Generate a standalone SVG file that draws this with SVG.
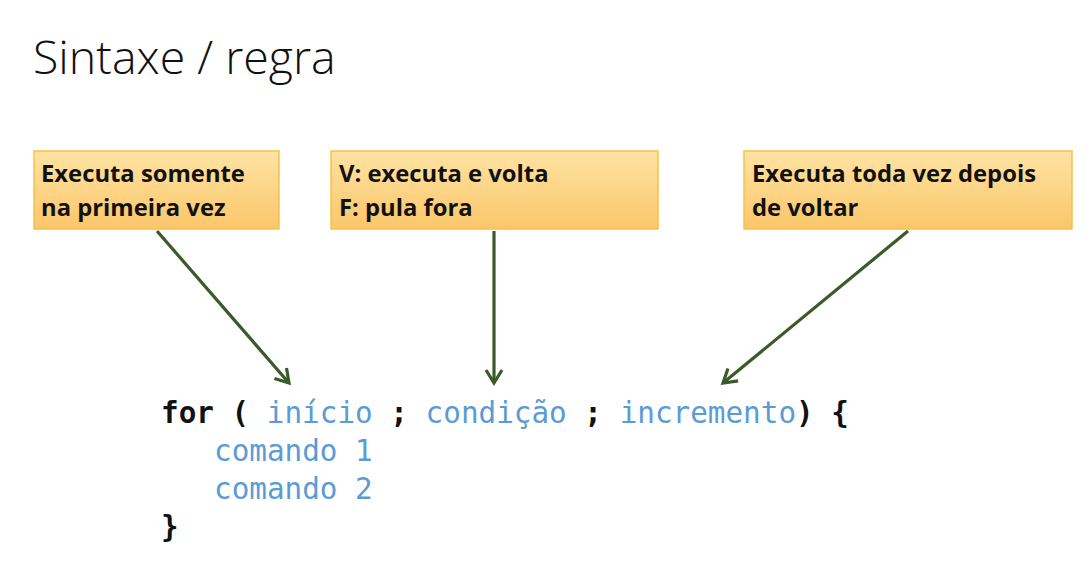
<svg xmlns="http://www.w3.org/2000/svg" width="1087" height="563" viewBox="0 0 1087 563">
<defs>
<linearGradient id="boxg" x1="0" y1="0" x2="0" y2="1">
<stop offset="0" stop-color="#fee3a3"/>
<stop offset="1" stop-color="#fbc66a"/>
</linearGradient>
<marker id="ah" markerWidth="10" markerHeight="10" refX="8" refY="5" orient="auto" markerUnits="userSpaceOnUse" viewBox="0 0 10 10" overflow="visible">
<polyline points="-5,-3 8,5 -5,13" fill="none" stroke="#3b5a2a" stroke-width="3.2" stroke-linejoin="miter"/>
</marker>
<style>
.box{fill:url(#boxg);stroke:#f6c24a;stroke-width:1.5}
.bt{font-family:"Open Sans","Liberation Sans",sans-serif;font-weight:bold;font-size:23.8px;fill:#111}
.code{font-family:"DejaVu Sans Mono","Liberation Mono",monospace;font-size:29.3px}
.k{fill:#111;font-weight:bold}
.v{fill:#5b9bd5}
.conn{stroke:#3b5a2a;stroke-width:3.2;fill:none;marker-end:url(#ah)}
</style>
</defs>
<rect width="1087" height="563" fill="#ffffff"/>
<text x="33" y="74" font-family="'Open Sans','Liberation Sans',sans-serif" font-weight="300" font-size="46.5" fill="#111">Sintaxe / regra</text>
<g id="node-inicio">
<rect class="box" x="34" y="151" width="245" height="78"/>
<text class="bt" x="41" y="182">Executa somente</text>
<text class="bt" x="41" y="216">na primeira vez</text>
</g>
<g id="node-condicao">
<rect class="box" x="331" y="151" width="327" height="78"/>
<text class="bt" x="339" y="182">V: executa e volta</text>
<text class="bt" x="339" y="216">F: pula fora</text>
</g>
<g id="node-incremento">
<rect class="box" x="744" y="151" width="328" height="78"/>
<text class="bt" x="752" y="182">Executa toda vez depois</text>
<text class="bt" x="752" y="216">de voltar</text>
</g>
<g id="connectors">
<line class="conn" x1="157" y1="231" x2="289" y2="383"/>
<line class="conn" x1="494" y1="231" x2="494" y2="383"/>
<line class="conn" x1="908" y1="231" x2="723" y2="383"/>
</g>
<g id="code" class="code">
<text x="161" y="423" xml:space="preserve"><tspan class="k">for (</tspan> <tspan class="v">início</tspan> <tspan class="k">;</tspan> <tspan class="v">condição</tspan> <tspan class="k">;</tspan> <tspan class="v">incremento</tspan><tspan class="k">) {</tspan></text>
<text x="214" y="461" class="v">comando 1</text>
<text x="214" y="499" class="v">comando 2</text>
<text x="161" y="537" class="k">}</text>
</g>
</svg>
